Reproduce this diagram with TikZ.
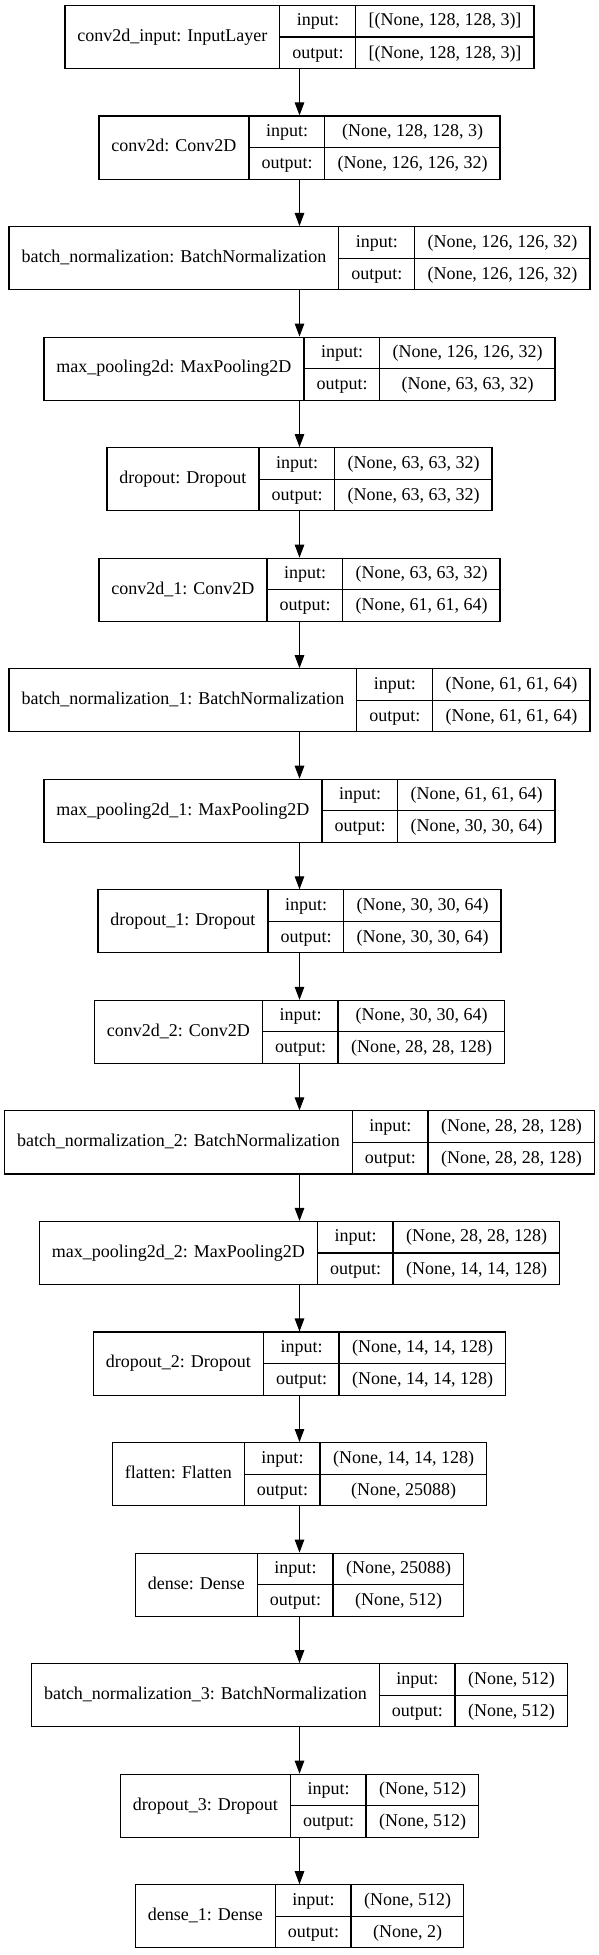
\documentclass[tikz,border=0pt]{standalone}
\usepackage{fontspec}
\setmainfont{Liberation Serif}
\usetikzlibrary{arrows.meta}
\setlength\arrayrulewidth{1.1pt}
\newcommand\lyfont{\fontsize{18}{21}\selectfont}
\newcommand\rs{\rule[-10.5pt]{0pt}{31pt}}
\tikzset{
  layerbox/.style={draw=black, line width=1.1pt, inner sep=0pt, fill=white, font=\lyfont, anchor=center},
  flow/.style={draw=black, line width=1.1pt, -{Triangle[length=13pt,width=9.5pt]}}
}
\newcommand\layer[5]{%
  \node[layerbox] (#1) at (299.5,{1955-(37+110.55*#2)}) {%
    \begin{tabular}{@{\hspace{12.5pt}}c@{\hspace{12.5pt}}|@{}c@{}}
      #3 &
      \begin{tabular}{@{\hspace{12pt}}c@{\hspace{12pt}}|@{\hspace{12.5pt}}c@{\hspace{12.5pt}}}
        \rs input: & #4 \\ \hline
        \rs output: & #5
      \end{tabular}
    \end{tabular}};
}
\begin{document}
\begin{tikzpicture}[x=1pt,y=1pt]
\useasboundingbox (0,0) rectangle (599,1955);
\fill[white] (0,0) rectangle (599,1955);
\layer{inp}{0}{conv2d\_input: InputLayer}{[(None, 128, 128, 3)]}{[(None, 128, 128, 3)]}
\layer{cv0}{1}{conv2d: Conv2D}{(None, 128, 128, 3)}{(None, 126, 126, 32)}
\layer{bn0}{2}{batch\_normalization: BatchNormalization}{(None, 126, 126, 32)}{(None, 126, 126, 32)}
\layer{mp0}{3}{max\_pooling2d: MaxPooling2D}{(None, 126, 126, 32)}{(None, 63, 63, 32)}
\layer{do0}{4}{dropout: Dropout}{(None, 63, 63, 32)}{(None, 63, 63, 32)}
\layer{cv1}{5}{conv2d\_1: Conv2D}{(None, 63, 63, 32)}{(None, 61, 61, 64)}
\layer{bn1}{6}{batch\_normalization\_1: BatchNormalization}{(None, 61, 61, 64)}{(None, 61, 61, 64)}
\layer{mp1}{7}{max\_pooling2d\_1: MaxPooling2D}{(None, 61, 61, 64)}{(None, 30, 30, 64)}
\layer{do1}{8}{dropout\_1: Dropout}{(None, 30, 30, 64)}{(None, 30, 30, 64)}
\layer{cv2}{9}{conv2d\_2: Conv2D}{(None, 30, 30, 64)}{(None, 28, 28, 128)}
\layer{bn2}{10}{batch\_normalization\_2: BatchNormalization}{(None, 28, 28, 128)}{(None, 28, 28, 128)}
\layer{mp2}{11}{max\_pooling2d\_2: MaxPooling2D}{(None, 28, 28, 128)}{(None, 14, 14, 128)}
\layer{do2}{12}{dropout\_2: Dropout}{(None, 14, 14, 128)}{(None, 14, 14, 128)}
\layer{fl}{13}{flatten: Flatten}{(None, 14, 14, 128)}{(None, 25088)}
\layer{de0}{14}{dense: Dense}{(None, 25088)}{(None, 512)}
\layer{bn3}{15}{batch\_normalization\_3: BatchNormalization}{(None, 512)}{(None, 512)}
\layer{do3}{16}{dropout\_3: Dropout}{(None, 512)}{(None, 512)}
\layer{de1}{17}{dense\_1: Dense}{(None, 512)}{(None, 2)}
\foreach \a/\b in {inp/cv0, cv0/bn0, bn0/mp0, mp0/do0, do0/cv1, cv1/bn1, bn1/mp1, mp1/do1, do1/cv2, cv2/bn2, bn2/mp2, mp2/do2, do2/fl, fl/de0, de0/bn3, bn3/do3, do3/de1}
  \draw[flow] (\a.south) -- (\b.north);
\end{tikzpicture}
\end{document}
